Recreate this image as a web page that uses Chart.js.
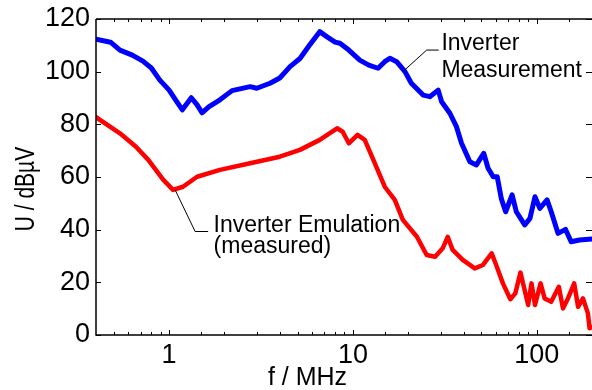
<!DOCTYPE html>
<html>
<head>
<meta charset="utf-8">
<script src="https://cdn.jsdelivr.net/npm/chart.js@4"></script>
<style>
  body { margin: 0; background: #fff; overflow: hidden; }
</style>
</head>
<body>
<canvas id="myChart" width="592" height="390"></canvas>
<script>
// frequencies in MHz, levels in dBµV
const blueFreq = [0.40, 0.48, 0.54, 0.63, 0.72, 0.80, 0.89, 1.0, 1.10, 1.18, 1.32, 1.42, 1.51, 1.65, 1.89, 2.2, 2.76, 3.0, 3.54, 4.0, 4.55, 5.15, 5.8, 6.6, 7.2, 8.0, 8.5, 9.5, 10.9, 12.2, 13.7, 14.9, 15.9, 17.3, 19.2, 20.8, 24.1, 26.2, 29.1, 30.4, 33.7, 36.6, 39.0, 43.3, 47, 51.5, 54.4, 58, 61, 64.2, 67.8, 73.5, 77.5, 86.1, 91.9, 97.9, 104, 113.9, 120, 130.6, 143.6, 154, 171, 200];
const blueLevel = [112.3, 111.2, 108.2, 106.3, 104, 101.4, 96.8, 93.0, 88.6, 85.5, 90.1, 87.4, 84.4, 86.7, 89.3, 92.8, 94.3, 93.7, 95.6, 97.6, 101.9, 105, 110, 115.2, 113.3, 111.2, 110.8, 108.2, 104.4, 102.5, 101.3, 103.8, 105.1, 103.8, 100, 95.6, 91.1, 90.5, 93.0, 88.6, 84.2, 79.1, 72.8, 65.8, 64.6, 69.0, 63.3, 60.1, 60.1, 51.8, 46.8, 53.2, 46.8, 41.8, 44.3, 52.5, 48.1, 51.3, 46.8, 38.6, 40.1, 35.4, 36.1, 36.5];

const redFreq = [0.40, 0.54, 0.66, 0.77, 0.93, 1.05, 1.19, 1.42, 1.89, 2.76, 4.0, 5.15, 6.6, 8.2, 8.8, 9.5, 10.6, 11.6, 12.7, 14.9, 16.9, 18.7, 22.3, 25.2, 28, 30.8, 32.8, 34.9, 39.6, 43.3, 46, 51, 56.9, 60.2, 65.5, 71.9, 76.5, 81.6, 86, 89.9, 93.7, 97.9, 105, 110.5, 120, 132, 139, 148, 160, 168, 178.6, 190, 194, 200];
const redLevel = [82.7, 76.6, 71.5, 66.5, 58.9, 55.1, 56.3, 60.1, 62.7, 65.2, 67.7, 70.3, 74.1, 78.5, 77.2, 72.8, 76.0, 74.1, 67.7, 56.3, 51.3, 43.7, 37.3, 30.4, 29.7, 32.9, 37.3, 32.3, 28.5, 26.6, 25.3, 26.6, 31.0, 26.6, 19.6, 13.6, 15.8, 23.7, 17.1, 11.4, 19.6, 11.4, 19.6, 13.9, 12.6, 18.3, 10.1, 13.9, 19.6, 10.7, 13.9, 8.2, 2.6, 3.0];

const xTickLabels = [1, 10, 100];
const yTicks = [0, 20, 40, 60, 80, 100, 120];

// callouts: leader line in data coords, then text lines
const callouts = [
  { path: [[18.7, 100], [25.2, 108.2], [29.3, 108.2]], textAt: 30.3, lines: [["Inverter", 108.2], ["Measurement", 97.9]] },
  { path: [[1.078, 55.1], [1.385, 39.3], [1.63, 39.3]], textAt: 1.745, lines: [["Inverter Emulation", 39.2], ["(measured)", 31.0]] }
];

const FONT = '"Liberation Sans", Arial, sans-serif';
Chart.defaults.font.family = FONT;
Chart.defaults.color = "#000";

function isDecade(v) {
  const l = Math.log10(v);
  return Math.abs(l - Math.round(l)) < 1e-6;
}

const framePlugin = {
  id: "frame",
  afterDraw(chart) {
    const { ctx, chartArea: a, scales } = chart;
    const x = scales.x, y = scales.y;
    ctx.save();
    ctx.strokeStyle = "#000";
    ctx.lineWidth = 1.5;
    ctx.beginPath();
    ctx.moveTo(a.left, a.top);
    ctx.lineTo(a.right + 2, a.top);
    ctx.moveTo(a.left, a.top);
    ctx.lineTo(a.left, a.bottom);
    ctx.lineTo(a.right + 2, a.bottom);
    ctx.stroke();

    // inward ticks on all four sides
    ctx.lineWidth = 1;
    ctx.beginPath();
    x.ticks.forEach(t => {
      const px = Math.round(x.getPixelForValue(t.value)) + 0.5;
      if (px <= a.left + 1 || px >= a.right - 1) return;
      const len = isDecade(t.value) ? 5 : 3;
      ctx.moveTo(px, a.bottom);
      ctx.lineTo(px, a.bottom - len);
      ctx.moveTo(px, a.top);
      ctx.lineTo(px, a.top + len);
    });
    yTicks.forEach(v => {
      const py = Math.round(y.getPixelForValue(v)) + 0.5;
      ctx.moveTo(a.left, py);
      ctx.lineTo(a.left + 5, py);
      ctx.moveTo(a.right, py);
      ctx.lineTo(a.right - 6, py);
    });
    ctx.stroke();

    // callouts
    ctx.lineWidth = 1;
    ctx.font = "23px " + FONT;
    ctx.fillStyle = "#000";
    ctx.textAlign = "left";
    ctx.textBaseline = "alphabetic";
    callouts.forEach(c => {
      ctx.beginPath();
      c.path.forEach((p, i) => {
        const px = x.getPixelForValue(p[0]);
        const py = y.getPixelForValue(p[1]);
        if (i === 0) ctx.moveTo(px, py);
        else ctx.lineTo(px, py);
      });
      ctx.stroke();
      const tx = x.getPixelForValue(c.textAt);
      c.lines.forEach(l => ctx.fillText(l[0], tx, y.getPixelForValue(l[1])));
    });

    // axis titles
    ctx.font = "25px " + FONT;
    ctx.textAlign = "center";
    ctx.fillText("f / MHz", 307.5, 385);
    ctx.save();
    ctx.translate(34, 189);
    ctx.rotate(-Math.PI / 2);
    ctx.scale(1, 1.3);
    ctx.font = "21px " + FONT;
    ctx.fillText("U / dBµV", 0, 0);
    ctx.restore();
    ctx.restore();
  }
};

new Chart(document.getElementById("myChart"), {
  type: "line",
  data: {
    datasets: [
      {
        label: "Inverter Measurement",
        data: blueFreq.map((f, i) => ({ x: f, y: blueLevel[i] })),
        borderColor: "#0000ff",
        borderWidth: 5,
        pointRadius: 0,
        tension: 0,
        borderJoinStyle: "round",
        borderCapStyle: "round"
      },
      {
        label: "Inverter Emulation (measured)",
        data: redFreq.map((f, i) => ({ x: f, y: redLevel[i] })),
        borderColor: "#ff0000",
        borderWidth: 4.5,
        pointRadius: 0,
        tension: 0,
        borderJoinStyle: "round",
        borderCapStyle: "round"
      }
    ]
  },
  options: {
    responsive: false,
    animation: false,
    devicePixelRatio: 1,
    layout: { padding: { top: 19, right: 0, left: 0, bottom: 0 } },
    plugins: { legend: { display: false }, tooltip: { enabled: false } },
    scales: {
      x: {
        type: "logarithmic",
        min: 0.4,
        max: 200,
        grid: { display: false, drawTicks: false },
        border: { display: false },
        ticks: {
          font: { size: 27 },
          padding: 4,
          autoSkip: false,
          maxRotation: 0,
          minRotation: 0,
          callback: v => (xTickLabels.some(t => Math.abs(t - v) < 1e-6) ? String(v) : "")
        },
        afterFit: s => { s.height = 55; s.paddingLeft = 0; s.paddingRight = 0; }
      },
      y: {
        min: 0,
        max: 120,
        grid: { display: false, drawTicks: false },
        border: { display: false },
        ticks: {
          font: { size: 27 },
          padding: 6,
          stepSize: 20
        },
        afterFit: s => { s.width = 96; s.paddingTop = 0; s.paddingBottom = 0; }
      }
    }
  },
  plugins: [framePlugin]
});
</script>
</body>
</html>
